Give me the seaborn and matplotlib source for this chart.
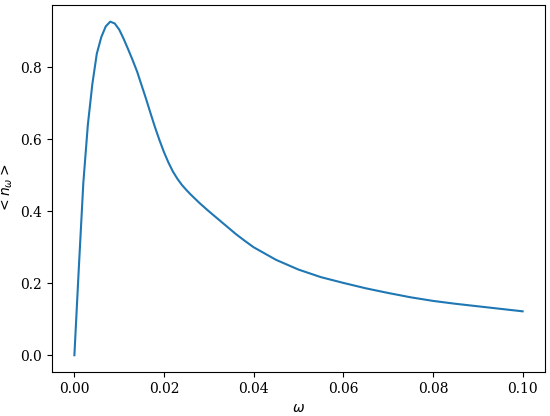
import matplotlib
matplotlib.use("Agg")
import matplotlib.pyplot as plt
import seaborn as sns
import pandas as pd

omega = [0.000, 0.001, 0.002, 0.003, 0.004, 0.005, 0.006, 0.007, 0.008, 0.009,
         0.010, 0.011, 0.012, 0.013, 0.014, 0.015, 0.016, 0.017, 0.018, 0.019,
         0.020, 0.021, 0.022, 0.023, 0.024, 0.025, 0.026, 0.027, 0.028, 0.029,
         0.030, 0.032, 0.034, 0.036, 0.038, 0.040, 0.045, 0.050, 0.055, 0.060,
         0.065, 0.070, 0.075, 0.080, 0.085, 0.090, 0.095, 0.100]
n_omega = [0.000, 0.245, 0.480, 0.640, 0.753, 0.838, 0.884, 0.914, 0.927, 0.922,
           0.905, 0.879, 0.850, 0.820, 0.788, 0.750, 0.712, 0.672, 0.633, 0.597,
           0.564, 0.535, 0.510, 0.490, 0.473, 0.459, 0.446, 0.434, 0.422, 0.411,
           0.400, 0.379, 0.358, 0.337, 0.318, 0.300, 0.265, 0.238, 0.217, 0.201,
           0.186, 0.173, 0.161, 0.151, 0.143, 0.136, 0.129, 0.122]

df = pd.DataFrame({"omega": omega, "n": n_omega})

plt.rcParams["font.family"] = ["DejaVu Serif"]
plt.rcParams["mathtext.fontset"] = "dejavusans"

fig, ax = plt.subplots(figsize=(5.5, 4.16), dpi=100)
fig.subplots_adjust(left=0.0945, right=0.991, bottom=0.106, top=0.988)
sns.lineplot(data=df, x="omega", y="n", ax=ax, color="#1f77b4", linewidth=1.5)
ax.set_xlabel(r"$\omega$")
ax.set_ylabel(r"$<n_\omega>$")
ax.set_xticks([0.00, 0.02, 0.04, 0.06, 0.08, 0.10])
ax.set_xticklabels(["0.00", "0.02", "0.04", "0.06", "0.08", "0.10"])
ax.set_yticks([0.0, 0.2, 0.4, 0.6, 0.8])
ax.set_yticklabels(["0.0", "0.2", "0.4", "0.6", "0.8"])
fig.savefig("out.png", dpi=100)
